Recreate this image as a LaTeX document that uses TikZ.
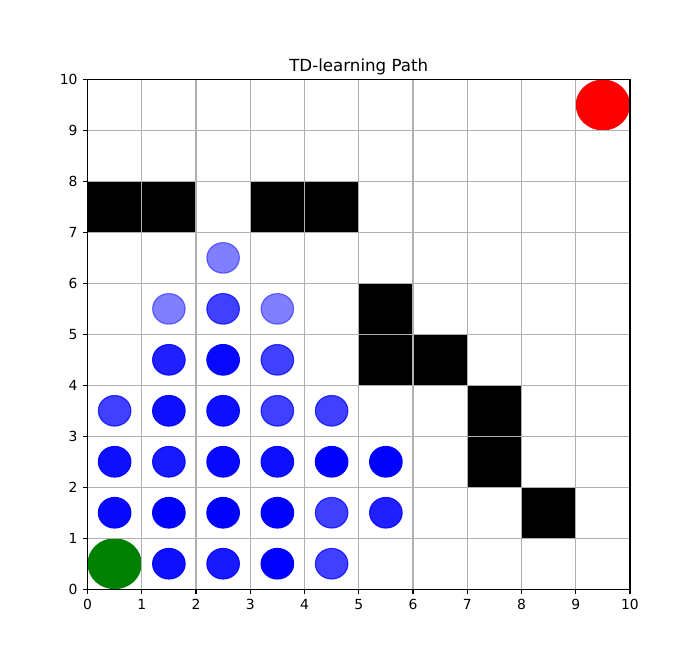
\documentclass[tikz,border=0pt]{standalone}
\usepackage{fontspec}
\setmainfont{DejaVu Sans}
\definecolor{gridgray}{HTML}{B0B0B0}
\definecolor{mplgreen}{HTML}{008000}
\begin{document}
\begin{tikzpicture}[x=39.06pt,y=36.70pt,
  obstacle/.style={fill=black},
  gridline/.style={draw=gridgray,line width=0.8pt},
  frame/.style={draw=black,line width=0.8pt},
  tick/.style={draw=black,line width=0.8pt},
  ticklabel/.style={font=\fontsize{10}{12}\selectfont,inner sep=0pt},
  visit/.style={fill=blue,draw=blue,line width=0.8pt,fill opacity=#1,draw opacity=#1}]
\useasboundingbox (-1.6129,-1.4287) rectangle (11.2903,11.5594);
% obstacles
\foreach \a/\b in {0/7,1/7,3/7,4/7,5/5,5/4,6/4,7/3,7/2,8/1}
  \fill[obstacle] (\a,\b) rectangle ++(1,1);
% visited cells
\foreach \cx/\cy/\al in {
  2.5/6.5/0.5,
  1.5/5.5/0.5, 2.5/5.5/0.75, 3.5/5.5/0.5,
  1.5/4.5/0.875, 2.5/4.5/0.97, 3.5/4.5/0.75,
  0.5/3.5/0.75, 1.5/3.5/0.94, 2.5/3.5/0.94, 3.5/3.5/0.75, 4.5/3.5/0.75,
  0.5/2.5/0.94, 1.5/2.5/0.9, 2.5/2.5/0.97, 3.5/2.5/0.94, 4.5/2.5/1, 5.5/2.5/1,
  0.5/1.5/0.97, 1.5/1.5/1, 2.5/1.5/1, 3.5/1.5/1, 4.5/1.5/0.75, 5.5/1.5/0.875,
  1.5/0.5/0.94, 2.5/0.5/0.9, 3.5/0.5/1, 4.5/0.5/0.75}
  \path[visit=\al] (\cx,\cy) ellipse [x radius=0.3, y radius=0.3];
% start and goal
\fill[mplgreen] (0.5,0.5) ellipse [x radius=0.5, y radius=0.5];
\fill[red] (9.5,9.5) ellipse [x radius=0.5, y radius=0.5];
% grid
\foreach \i in {1,...,9} {
  \draw[gridline] (\i,0) -- (\i,10);
  \draw[gridline] (0,\i) -- (10,\i);
}
% frame
\draw[frame] (0,0) rectangle (10,10);
% ticks and labels
\foreach \i in {0,...,10} {
  \draw[tick] (\i,0) -- ++(0,-3.5pt);
  \node[ticklabel,anchor=north] (xl\i) at ([yshift=-7pt]\i,0) {\i};
  \draw[tick] (0,\i) -- ++(-3.5pt,0);
  \node[ticklabel,anchor=east] (yl\i) at ([xshift=-7pt]0,\i) {\i};
}
\node[font=\fontsize{12}{14}\selectfont,inner sep=0pt,anchor=base] (title) at ([yshift=6pt]5,10) {TD-learning Path};
\end{tikzpicture}
\end{document}
